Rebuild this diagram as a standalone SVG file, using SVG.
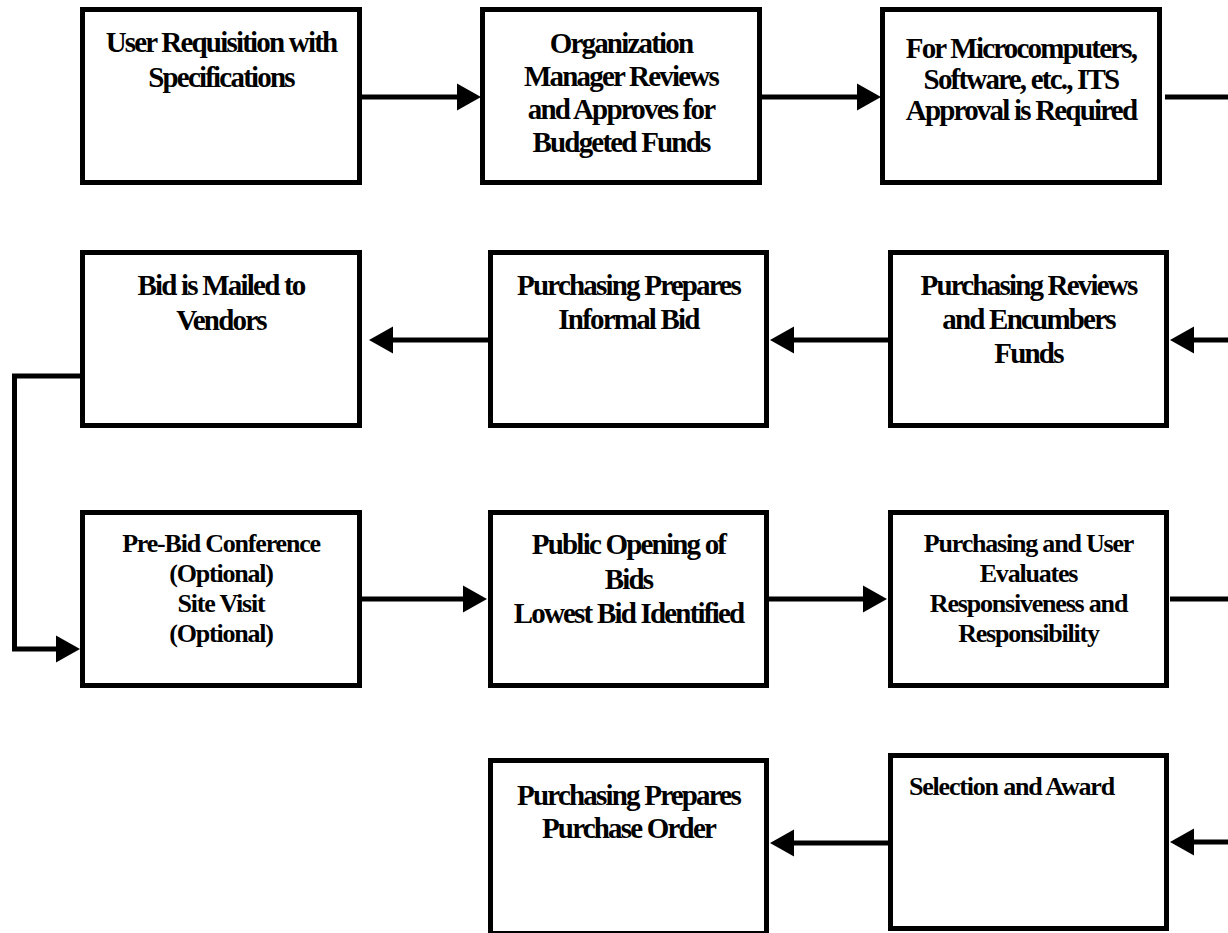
<svg xmlns="http://www.w3.org/2000/svg" width="1228" height="933" viewBox="0 0 1228 933">
  <style>
    .box { fill: #ffffff; stroke: #000000; stroke-width: 5; }
    .lbl { font-family: "Liberation Serif", "Times New Roman", serif; font-weight: bold; font-size: 29px; letter-spacing: -1.8px; fill: #000000; text-anchor: middle; }
    .sm { font-size: 26px; letter-spacing: -1.2px; }
    .left { text-anchor: start; }
    .wire { fill: none; stroke: #000000; stroke-width: 5; }
  </style>
  <defs>
    <marker id="head" markerUnits="userSpaceOnUse" markerWidth="25" markerHeight="27" refX="1" refY="13.5" orient="auto" overflow="visible">
      <path d="M0,0 L24,13.5 L0,27 Z" fill="#000000"/>
    </marker>
  </defs>
  <rect width="1228" height="933" fill="#ffffff"/>

  <!-- connectors -->
  <g id="connectors">
    <line class="wire" x1="362" y1="97" x2="458" y2="97" marker-end="url(#head)"/>
    <line class="wire" x1="762" y1="97" x2="858" y2="97" marker-end="url(#head)"/>
    <line class="wire" x1="1165" y1="97" x2="1228" y2="97"/>
    <line class="wire" x1="1228" y1="340" x2="1193" y2="340" marker-end="url(#head)"/>
    <line class="wire" x1="888" y1="340" x2="793" y2="340" marker-end="url(#head)"/>
    <line class="wire" x1="488" y1="340" x2="392" y2="340" marker-end="url(#head)"/>
    <path class="wire" d="M80,376 L14.5,376 L14.5,649 L57,649" marker-end="url(#head)"/>
    <line class="wire" x1="362" y1="599" x2="464" y2="599" marker-end="url(#head)"/>
    <line class="wire" x1="769" y1="599" x2="864" y2="599" marker-end="url(#head)"/>
    <line class="wire" x1="1170" y1="599" x2="1228" y2="599"/>
    <line class="wire" x1="1228" y1="842" x2="1193" y2="842" marker-end="url(#head)"/>
    <line class="wire" x1="888" y1="843" x2="793" y2="843" marker-end="url(#head)"/>
  </g>

  <!-- row 1 -->
  <g id="user-requisition">
    <rect class="box" x="82.5" y="9.5" width="277" height="173"/>
    <text class="lbl" x="221" y="52">User Requisition with</text>
    <text class="lbl" x="221" y="87">Specifications</text>
  </g>
  <g id="manager-approval">
    <rect class="box" x="482.5" y="9.5" width="277" height="173"/>
    <text class="lbl" x="621" y="53">Organization</text>
    <text class="lbl" x="621" y="86">Manager Reviews</text>
    <text class="lbl" x="621" y="119">and Approves for</text>
    <text class="lbl" x="621" y="152">Budgeted Funds</text>
  </g>
  <g id="its-approval">
    <rect class="box" x="882.5" y="9.5" width="277" height="173"/>
    <text class="lbl" x="1021" y="58">For Microcomputers,</text>
    <text class="lbl" x="1021" y="89">Software, etc., ITS</text>
    <text class="lbl" x="1021" y="120">Approval is Required</text>
  </g>

  <!-- row 2 -->
  <g id="bid-mailed">
    <rect class="box" x="82.5" y="252.5" width="277" height="173"/>
    <text class="lbl" x="221" y="295">Bid is Mailed to</text>
    <text class="lbl" x="221" y="330">Vendors</text>
  </g>
  <g id="informal-bid">
    <rect class="box" x="490.5" y="252.5" width="276" height="173"/>
    <text class="lbl" x="628.5" y="295">Purchasing Prepares</text>
    <text class="lbl" x="628.5" y="329">Informal Bid</text>
  </g>
  <g id="encumber-funds">
    <rect class="box" x="890.5" y="252.5" width="276" height="173"/>
    <text class="lbl" x="1028.5" y="295">Purchasing Reviews</text>
    <text class="lbl" x="1028.5" y="329">and Encumbers</text>
    <text class="lbl" x="1028.5" y="363">Funds</text>
  </g>

  <!-- row 3 -->
  <g id="pre-bid-conference">
    <rect class="box" x="82.5" y="512.5" width="277" height="173"/>
    <text class="lbl sm" x="221" y="552">Pre-Bid Conference</text>
    <text class="lbl sm" x="221" y="582">(Optional)</text>
    <text class="lbl sm" x="221" y="612">Site Visit</text>
    <text class="lbl sm" x="221" y="642">(Optional)</text>
  </g>
  <g id="public-opening">
    <rect class="box" x="490.5" y="512.5" width="276" height="173"/>
    <text class="lbl" x="628.5" y="554">Public Opening of</text>
    <text class="lbl" x="628.5" y="588.5">Bids</text>
    <text class="lbl" x="628.5" y="623">Lowest Bid Identified</text>
  </g>
  <g id="evaluation">
    <rect class="box" x="890.5" y="512.5" width="276" height="173"/>
    <text class="lbl sm" x="1028.5" y="552">Purchasing and User</text>
    <text class="lbl sm" x="1028.5" y="582">Evaluates</text>
    <text class="lbl sm" x="1028.5" y="612">Responsiveness and</text>
    <text class="lbl sm" x="1028.5" y="642">Responsibility</text>
  </g>

  <!-- row 4 -->
  <g id="purchase-order">
    <rect class="box" x="490.5" y="760.5" width="276" height="173"/>
    <text class="lbl" x="628.5" y="805">Purchasing Prepares</text>
    <text class="lbl" x="628.5" y="838">Purchase Order</text>
  </g>
  <g id="selection-award">
    <rect class="box" x="890.5" y="755.5" width="276" height="173"/>
    <text class="lbl sm left" x="909" y="795">Selection and Award</text>
  </g>
</svg>
